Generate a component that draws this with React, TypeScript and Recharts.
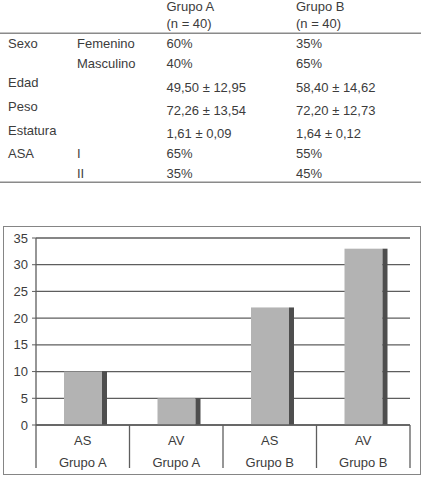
import React from 'react';
import { BarChart, Bar, XAxis, YAxis, CartesianGrid } from 'recharts';

// descriptive table above the chart
const headerCols = ['Grupo A', 'Grupo B'];
const headerN = ['(n = 40)', '(n = 40)'];
const rowLabels = ['Sexo', '', 'Edad', 'Peso', 'Estatura', 'ASA', ''];
const rowSub = ['Femenino', 'Masculino', '', '', '', 'I', 'II'];
const rowGroupA = ['60%', '40%', '49,50 ± 12,95', '72,26 ± 13,54', '1,61 ± 0,09', '65%', '35%'];
const rowGroupB = ['35%', '65%', '58,40 ± 14,62', '72,20  ± 12,73', '1,64 ± 0,12', '55%', '45%'];

// bar chart
const categories = ['AS', 'AV', 'AS', 'AV'];
const groups = ['Grupo A', 'Grupo A', 'Grupo B', 'Grupo B'];
const values = [10, 5, 22, 33];
const yTicks = [0, 5, 10, 15, 20, 25, 30, 35];

const data = categories.map((c, i) => ({ key: `${c}-${groups[i]}`, value: values[i] }));

const FONT = '"Liberation Sans", Arial, Helvetica, sans-serif';
const TEXT = '#3c3c3c';
const GRID = '#5e5e5e';

const CHART_W = 427;
const CHART_H = 259;
const MARGIN = { top: 18, right: 17, left: 0, bottom: 10 };
const Y_W = 36;
const PLOT_W = CHART_W - MARGIN.left - MARGIN.right - Y_W;
const HALF_BAND = PLOT_W / categories.length / 2;

// baselines of the table rows (labels sit a little higher than the numbers)
const labelBase = [48.3, 68.3, 87.3, 110.7, 135, 158.3, 177.7];
const valueBase = [48.3, 68.3, 91.7, 115, 138.3, 158.3, 177.7];

const Table = () => (
  <svg width={427} height={190} style={{ position: 'absolute', left: 0, top: 0 }}>
    <g fontFamily={FONT} fontSize={13} fill={TEXT} style={{ whiteSpace: 'pre' }}>
      {headerCols.map((h, i) => (
        <g key={h}>
          <text x={i === 0 ? 166.5 : 296} y={10.8}>{h}</text>
          <text x={i === 0 ? 166.5 : 296} y={27.5}>{headerN[i]}</text>
        </g>
      ))}
      {rowLabels.map((l, i) => (
        <g key={i}>
          {l && <text x={8} y={labelBase[i]}>{l}</text>}
          {rowSub[i] && <text x={77} y={labelBase[i]}>{rowSub[i]}</text>}
          <text x={166.5} y={valueBase[i]}>{rowGroupA[i]}</text>
          <text x={296} y={valueBase[i]}>{rowGroupB[i]}</text>
        </g>
      ))}
    </g>
    <line x1={0} x2={421} y1={33.3} y2={33.3} stroke="#8a8a8a" strokeWidth={1.5} />
    <line x1={0} x2={421} y1={182.3} y2={182.3} stroke="#8a8a8a" strokeWidth={1.5} />
  </svg>
);

const CategoryTick = (props: any) => {
  const { x, y, payload } = props;
  const i = payload.index ?? props.index;
  const last = i === categories.length - 1;
  return (
    <g>
      <line x1={x - HALF_BAND} x2={x - HALF_BAND} y1={y} y2={y + 43} stroke={GRID} strokeWidth={1.3} />
      {last && <line x1={x + HALF_BAND} x2={x + HALF_BAND} y1={y} y2={y + 43} stroke={GRID} strokeWidth={1.3} />}
      <text x={x} y={y + 20} textAnchor="middle" fontSize={13} fill={TEXT}>{categories[i]}</text>
      <text x={x} y={y + 42} textAnchor="middle" fontSize={13} fill={TEXT}>{groups[i]}</text>
    </g>
  );
};

// flat bar with a dark side strip on the right
const ShadedBar = (props: any) => {
  const { x, y, width, height } = props;
  return (
    <g>
      <rect x={x} y={y} width={width} height={height} fill="#b3b3b3" />
      <rect x={x + width} y={y} width={5} height={height} fill="#4e4e4e" />
    </g>
  );
};

export default function App() {
  return (
    <div style={{ position: 'absolute', left: 0, top: 0, width: 427, height: 479, fontFamily: FONT, background: '#fff' }}>
      <Table />
      <div
        style={{
          position: 'absolute',
          left: 3,
          top: 226,
          width: 418,
          height: 249,
          boxSizing: 'border-box',
          border: '1.5px solid #858585',
        }}
      />
      <div style={{ position: 'absolute', left: 0, top: 220 }}>
        <BarChart width={CHART_W} height={CHART_H} data={data} margin={MARGIN} barSize={38}>
          <CartesianGrid horizontal vertical={false} stroke={GRID} strokeWidth={1.3} />
          <XAxis
            dataKey="key"
            height={44}
            axisLine={{ stroke: GRID, strokeWidth: 1.3 }}
            tickLine={false}
            tickSize={0}
            tickMargin={0}
            interval={0}
            tick={<CategoryTick />}
          />
          <YAxis
            width={Y_W}
            domain={[0, 35]}
            ticks={yTicks}
            interval={0}
            axisLine={{ stroke: GRID, strokeWidth: 1.3 }}
            tickLine={{ stroke: GRID, strokeWidth: 1 }}
            tickSize={4}
            tickMargin={4}
            tick={{ fontSize: 13, fill: TEXT }}
          />
          <YAxis
            yAxisId="r"
            orientation="right"
            width={0}
            tick={false}
            tickLine={false}
            axisLine={{ stroke: GRID, strokeWidth: 1.3 }}
          />
          <Bar dataKey="value" shape={<ShadedBar />} isAnimationActive={false} />
        </BarChart>
      </div>
    </div>
  );
}
